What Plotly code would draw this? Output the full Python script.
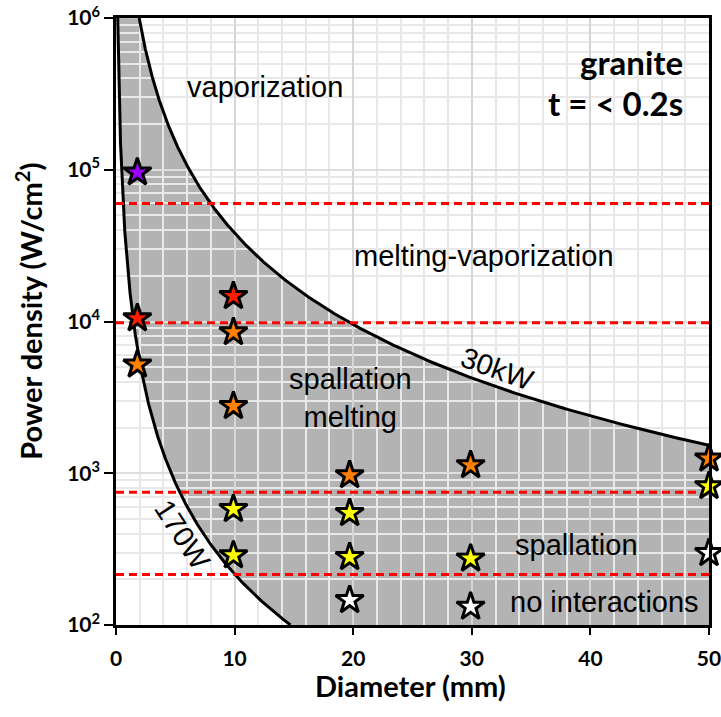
import numpy as np
import plotly.graph_objects as go

# ---------------- data ----------------
x_tick_vals = [0, 10, 20, 30, 40, 50]
y_tick_vals = [1e2, 1e3, 1e4, 1e5, 1e6]
y_tick_text = ["10<sup>2</sup>", "10<sup>3</sup>", "10<sup>4</sup>", "10<sup>5</sup>", "10<sup>6</sup>"]

curve_powers_W = [170, 30000]          # iso-power curves
curve_labels = ["170W", "30kW"]

threshold_levels = [6.0e4, 9.8e3, 7.5e2, 2.15e2]   # red dashed regime limits

star_diam = [1.8, 1.8, 1.8,
             9.9, 9.9, 9.9, 9.9, 9.9,
             19.7, 19.7, 19.7, 19.7,
             29.9, 29.9, 29.9,
             50, 50, 50]
star_pd = [9.6e4, 1.05e4, 5.2e3,
           1.47e4, 8.5e3, 2.77e3, 580, 288,
           970, 546, 280, 146,
           1130, 274, 132,
           1250, 822, 298]
star_colors = ["#9b00ff", "#ff1a00", "#ff8000",
               "#ff1a00", "#ff8000", "#ff8000", "#ffff00", "#ffff00",
               "#ff8000", "#ffff00", "#ffff00", "#ffffff",
               "#ff8000", "#ffff00", "#ffffff",
               "#ff8000", "#ffff00", "#ffffff"]

Y_MIN, Y_MAX = 1e2, 1e6
X_MAX = 50


def power_density(p_watt, d_mm):
    area_cm2 = np.pi * (np.asarray(d_mm) / 20.0) ** 2
    return p_watt / area_cm2


def diam_at(p_watt, pd):
    return 20.0 * np.sqrt(p_watt / (np.pi * pd))


p_low, p_high = curve_powers_W

# shaded band between the two iso-power curves
d0 = diam_at(p_low, Y_MAX)
d_fill = np.unique(np.concatenate([np.geomspace(d0, 5, 400), np.linspace(5, X_MAX, 400)]))
y_top = np.clip(power_density(p_high, d_fill), Y_MIN, Y_MAX)
y_bot = np.clip(power_density(p_low, d_fill), Y_MIN, Y_MAX)

fig = go.Figure()
fig.add_trace(go.Scatter(
    x=np.concatenate([d_fill, d_fill[::-1]]),
    y=np.concatenate([y_top, y_bot[::-1]]),
    fill="toself", fillcolor="#b3b3b3", mode="lines", line=dict(width=0),
    hoverinfo="skip", showlegend=False, xaxis="x", yaxis="y"))

# iso-power curves
for p in curve_powers_W:
    d_start = diam_at(p, Y_MAX)
    d_end = min(X_MAX, diam_at(p, Y_MIN))
    d = np.geomspace(d_start, d_end, 500)
    fig.add_trace(go.Scatter(x=d, y=power_density(p, d), mode="lines",
                             line=dict(color="black", width=3),
                             showlegend=False, xaxis="x2", yaxis="y2"))

# red dashed regime limits
for lvl in threshold_levels:
    fig.add_trace(go.Scatter(x=[0, X_MAX], y=[lvl, lvl], mode="lines",
                             line=dict(color="#ff0000", width=3, dash="8px,5px"),
                             showlegend=False, xaxis="x2", yaxis="y2"))

# experiment stars
fig.add_trace(go.Scatter(x=star_diam, y=star_pd, mode="markers",
                         marker=dict(symbol="star", size=21, color=star_colors,
                                     line=dict(color="black", width=3)),
                         cliponaxis=False, showlegend=False, xaxis="x2", yaxis="y2"))

label_font = dict(family="Liberation Sans, Arial", size=29, color="black")
bold_font = dict(family="Lato, Liberation Sans", size=33, color="black", weight="bold")
title_font = dict(family="Lato, Liberation Sans", size=29, color="black", weight="bold")

annotations = []


def add_label(text, x, y, angle=0, font=label_font, xanchor="center"):
    annotations.append(dict(text=text, x=x, y=np.log10(y), xref="x2", yref="y2",
                            showarrow=False, textangle=angle, font=font,
                            xanchor=xanchor, yanchor="middle"))


add_label("vaporization", 12.6, 3.5e5)
add_label("melting-vaporization", 31.0, 2.7e4)
annotations.append(dict(text="spallation<br>melting", x=19.8, y=np.log10(3.15e3),
                        xref="x2", yref="y2", showarrow=False, font=label_font,
                        align="center"))
add_label("spallation", 38.8, 336)
add_label("no interactions", 41.2, 142)
add_label(curve_labels[1], 32.2, 4.9e3, angle=20)
add_label(curve_labels[0], 5.6, 391, angle=57)

annotations.append(dict(text="granite", x=0.9595, y=0.9275, xref="paper", yref="paper",
                        xanchor="right", yanchor="middle", showarrow=False, font=bold_font))
annotations.append(dict(text="t = < 0.2s", x=0.9595, y=0.86, xref="paper", yref="paper",
                        xanchor="right", yanchor="middle", showarrow=False, font=bold_font))
annotations.append(dict(text="Diameter (mm)", x=0.497, y=-0.1, xref="paper", yref="paper",
                        xanchor="center", yanchor="middle", showarrow=False, font=title_font))
annotations.append(dict(text="Power density (W/cm<sup>2</sup>)", x=-0.1467, y=0.516,
                        xref="paper", yref="paper", textangle=-90,
                        xanchor="center", yanchor="middle", showarrow=False, font=title_font))

tick_font = dict(family="Lato, Liberation Sans", size=21, color="black", weight="bold")

fig.update_layout(
    width=721, height=717,
    margin=dict(l=116, r=12, t=18, b=92, autoexpand=False),
    paper_bgcolor="white", plot_bgcolor="rgba(0,0,0,0)",
    xaxis=dict(domain=[0, 1], range=[0, X_MAX], visible=False, anchor="y", automargin=False),
    yaxis=dict(domain=[0, 1], type="log", range=[2, 6], visible=False, anchor="x", automargin=False),
    xaxis2=dict(domain=[0, 1], range=[0, X_MAX], anchor="y2", automargin=False,
                tickmode="array", tickvals=x_tick_vals, tickfont=tick_font,
                ticks="outside", ticklen=7, tickwidth=2, tickcolor="black",
                ticklabelstandoff=6, ticklabeloverflow="allow",
                showgrid=True, gridcolor="#d6d6d6", gridwidth=1.5,
                minor=dict(dtick=2, showgrid=True, gridcolor="#e8e8e8", gridwidth=1.5),
                showline=True, linecolor="black", linewidth=2.5, mirror=True,
                zeroline=False),
    yaxis2=dict(domain=[0, 1], type="log", range=[2, 6], anchor="x2", automargin=False,
                tickmode="array", tickvals=y_tick_vals, ticktext=y_tick_text,
                tickfont=tick_font, ticklabeloverflow="allow",
                ticks="outside", ticklen=9, tickwidth=2, tickcolor="black",
                showgrid=True, gridcolor="#dedede", gridwidth=1.5,
                minor=dict(dtick="D1", showgrid=True, gridcolor="#e8e8e8", gridwidth=1.5),
                showline=True, linecolor="black", linewidth=2.5, mirror=True,
                zeroline=False),
    annotations=annotations,
    showlegend=False,
)

fig.write_html("out.html", config={"displayModeBar": False},
               post_script="document.body.style.margin='0px';document.body.style.overflow='hidden';")
